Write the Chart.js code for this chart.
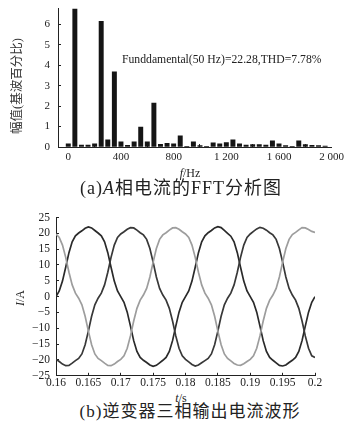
<!DOCTYPE html>
<html>
<head>
<meta charset="utf-8">
<script src="https://cdn.jsdelivr.net/npm/chart.js@4.4.1/dist/chart.umd.min.js"></script>
<style>
  html, body { margin: 0; padding: 0; background: #fff; }
  body {
    width: 345px; height: 427px; position: relative; overflow: hidden;
    font-family: "Liberation Serif", "Noto Sans CJK SC", serif; color: #222;
  }
  .box { position: absolute; left: 0; width: 345px; }
  .txt { position: absolute; white-space: nowrap; line-height: 1; }
  .mid { transform: translate(-50%, -50%); }
  .rot { transform: translate(-50%, -50%) rotate(-90deg); }
  i { font-style: italic; }
</style>
</head>
<body>
<div class="box" style="top:0;height:170px"><canvas id="fftChart"></canvas></div>
<div class="box" style="top:205px;height:185px"><canvas id="waveChart"></canvas></div>

<div class="txt" style="left:122px;top:53.5px;font-size:11.7px">Funddamental(50 Hz)=22.28,THD=7.78%</div>
<div class="txt rot" style="left:17px;top:86px;font-size:12.5px;color:#333">幅值(基波百分比)</div>
<div class="txt mid" style="left:190px;top:173px;font-size:12px"><i>f</i>/Hz</div>
<div class="txt mid" style="left:181px;top:188px;font-size:18px;letter-spacing:1px">(a)<i>A</i>相电流的FFT分析图</div>

<div class="txt rot" style="left:20px;top:298px;font-size:12px"><i>I</i>/A</div>
<div class="txt mid" style="left:181px;top:397.5px;font-size:12px"><i>t</i>/s</div>
<div class="txt mid" style="left:190px;top:411px;font-size:17px;letter-spacing:1px">(b)逆变器三相输出电流波形</div>

<script>
// ---------- (a) FFT spectrum ----------
const harmonicFreq = [
  0, 50, 100, 150, 200, 250, 300, 350, 400, 450,
  500, 550, 600, 650, 700, 750, 800, 850, 900, 950,
  1000, 1050, 1100, 1150, 1200, 1250, 1300, 1350, 1400, 1450,
  1500, 1550, 1600, 1650, 1700, 1750, 1800, 1850, 1900, 1950,
];
const harmonicAmp = [
  0.15, 6.75, 0.1, 0.1, 0.15, 6.15, 0.35, 3.68, 0.25, 0.08,
  0.25, 0.98, 0.25, 2.15, 0.13, 0.18, 0.15, 0.55, 0.02, 0.25,
  0.07, 0.02, 0.2, 0.15, 0.22, 0.35, 0.15, 0.1, 0.12, 0.12,
  0.1, 0.3, 0.15, 0.07, 0.03, 0.3, 0.12, 0.08, 0.07, 0.04,
];
const freqTicks = [0, 400, 800, 1200, 1600, 2000];
const freqTickLabels = ["0", "400", "800", "1 200", "1 600", "2 000"];
const ampTicks = [0, 1, 2, 3, 4, 5, 6];

// ---------- (b) three-phase currents ----------
const time = [
  0.16, 0.1605, 0.161, 0.1615, 0.162, 0.1625, 0.163, 0.1635, 0.164, 0.1645,
  0.165, 0.1655, 0.166, 0.1665, 0.167, 0.1675, 0.168, 0.1685, 0.169, 0.1695,
  0.17, 0.1705, 0.171, 0.1715, 0.172, 0.1725, 0.173, 0.1735, 0.174, 0.1745,
  0.175, 0.1755, 0.176, 0.1765, 0.177, 0.1775, 0.178, 0.1785, 0.179, 0.1795,
  0.18, 0.1805, 0.181, 0.1815, 0.182, 0.1825, 0.183, 0.1835, 0.184, 0.1845,
  0.185, 0.1855, 0.186, 0.1865, 0.187, 0.1875, 0.188, 0.1885, 0.189, 0.1895,
  0.19, 0.1905, 0.191, 0.1915, 0.192, 0.1925, 0.193, 0.1935, 0.194, 0.1945,
  0.195, 0.1955, 0.196, 0.1965, 0.197, 0.1975, 0.198, 0.1985, 0.199, 0.1995,
  0.2,
];
const phaseA = [
  0, 1.8, 4.9, 9.3, 13.9, 17.3, 19.2, 20.1, 20.8, 21.6,
  22.0, 21.7, 20.9, 20.1, 19.2, 17.3, 13.9, 9.3, 4.9, 1.8,
  0, -1.8, -4.9, -9.3, -13.9, -17.3, -19.2, -20.1, -20.8, -21.6,
  -22.0, -21.7, -20.9, -20.1, -19.2, -17.3, -13.9, -9.3, -4.9, -1.8,
  0, 1.8, 4.9, 9.3, 13.9, 17.3, 19.2, 20.2, 20.9, 21.7,
  22.1, 21.8, 20.9, 20.0, 19.1, 17.3, 13.9, 9.3, 4.9, 1.8,
  0, -1.8, -4.9, -9.3, -13.9, -17.3, -19.2, -20.1, -20.9, -21.7,
  -21.9, -21.6, -20.8, -20.1, -19.2, -17.3, -13.9, -9.3, -4.9, -1.8,
  0,
];
const phaseB = [
  19.8, 18.7, 16.3, 12.4, 7.7, 3.7, 1.1, -0.5, -2.6, -6.2,
  -10.9, -15.2, -18.1, -19.5, -20.2, -21.0, -21.7, -21.8, -21.3, -20.5,
  -19.8, -18.7, -16.3, -12.4, -7.7, -3.7, -1.1, 0.5, 2.6, 6.2,
  10.9, 15.2, 18.1, 19.5, 20.2, 21.0, 21.7, 21.8, 21.3, 20.5,
  19.8, 18.7, 16.3, 12.4, 7.7, 3.7, 1.1, -0.5, -2.6, -6.2,
  -10.9, -15.2, -18.1, -19.5, -20.3, -21.1, -21.6, -21.7, -21.2, -20.5,
  -19.8, -18.7, -16.3, -12.4, -7.7, -3.7, -1.1, 0.5, 2.6, 6.2,
  10.9, 15.2, 18.1, 19.6, 20.3, 21.1, 21.8, 21.7, 21.2, 20.6,
  20.3,
];
const phaseC = [
  -19.8, -20.5, -21.3, -21.8, -21.7, -21.0, -20.2, -19.5, -18.1, -15.2,
  -10.9, -6.2, -2.6, -0.5, 1.1, 3.7, 7.7, 12.4, 16.3, 18.7,
  19.8, 20.5, 21.3, 21.8, 21.7, 21.0, 20.2, 19.5, 18.1, 15.2,
  10.9, 6.2, 2.6, 0.5, -1.1, -3.7, -7.7, -12.4, -16.3, -18.7,
  -19.8, -20.6, -21.4, -21.9, -21.6, -20.9, -20.2, -19.5, -18.1, -15.2,
  -10.9, -6.2, -2.6, -0.5, 1.1, 3.7, 7.7, 12.4, 16.3, 18.7,
  19.8, 20.6, 21.4, 21.9, 21.6, 21.0, 20.2, 19.5, 18.1, 15.2,
  10.9, 6.2, 2.6, 0.5, -1.1, -3.7, -7.7, -12.4, -16.3, -18.7,
  -19.2,
];
const timeTicks = [0.16, 0.165, 0.17, 0.175, 0.18, 0.185, 0.19, 0.195, 0.2];
const timeTickLabels = ["0.16", "0.165", "0.17", "0.175", "0.18", "0.185", "0.19", "0.195", "0.2"];
const currentTicks = [-25, -20, -15, -10, -5, 0, 5, 10, 15, 20, 25];

// ---------- helpers ----------
const INK = "#222";
const serif = (size) => ({ family: "'Liberation Serif', serif", size: size });

function useTicks(values) {
  return (scale) => {
    scale.ticks = values.map((v) => ({ value: v }));
  };
}

function fixSize(prop, px) {
  return (scale) => {
    scale[prop] = px;
    scale.paddingLeft = 0;
    scale.paddingRight = 0;
    scale.paddingTop = 0;
    scale.paddingBottom = 0;
  };
}

function axisStyle() {
  return {
    grid: { drawOnChartArea: false, drawTicks: true, tickLength: -3, color: INK },
    border: { display: true, color: INK, width: 1 },
  };
}

const minus = (v) => String(v).replace("-", "\u2212");

// ========== (a) FFT bar chart ==========
new Chart(document.getElementById("fftChart"), {
  type: "bar",
  data: {
    datasets: [
      {
        data: harmonicFreq.map((f, i) => ({ x: f, y: harmonicAmp[i] })),
        backgroundColor: "#151515",
        borderWidth: 0,
        barThickness: 4.3,
      },
    ],
  },
  options: {
    responsive: true,
    maintainAspectRatio: false,
    animation: false,
    layout: { padding: { top: 8, right: 13.3, left: 0, bottom: 0 } },
    plugins: { legend: { display: false }, tooltip: { enabled: false } },
    scales: {
      x: {
        type: "linear",
        min: -78,
        max: 2000,
        offset: false,
        ...axisStyle(),
        afterBuildTicks: useTicks(freqTicks),
        afterFit: fixSize("height", 23),
        ticks: {
          color: INK,
          font: serif(11),
          padding: 6.4,
          maxRotation: 0,
          autoSkip: false,
          callback: (v, i) => freqTickLabels[i],
        },
      },
      y: {
        min: 0,
        max: 6.8,
        ...axisStyle(),
        afterBuildTicks: useTicks(ampTicks),
        afterFit: fixSize("width", 58),
        ticks: { color: INK, font: serif(11), padding: 11, autoSkip: false },
      },
    },
  },
});

// ========== (b) current waveforms ==========
function phase(values, color) {
  return {
    data: time.map((t, i) => ({ x: t, y: values[i] })),
    borderColor: color,
    borderWidth: 1.7,
    pointRadius: 0,
    tension: 0,
    fill: false,
  };
}

new Chart(document.getElementById("waveChart"), {
  type: "line",
  data: {
    datasets: [
      phase(phaseB, "#9d9d9d"),
      phase(phaseC, "#383838"),
      phase(phaseA, "#2a2a2a"),
    ],
  },
  options: {
    responsive: true,
    maintainAspectRatio: false,
    animation: false,
    layout: { padding: { top: 12.5, right: 30, left: 0, bottom: 0 } },
    plugins: { legend: { display: false }, tooltip: { enabled: false } },
    scales: {
      x: {
        type: "linear",
        min: 0.16,
        max: 0.2,
        ...axisStyle(),
        afterBuildTicks: useTicks(timeTicks),
        afterFit: fixSize("height", 14.2),
        ticks: {
          color: INK,
          font: serif(11.5),
          padding: 3,
          maxRotation: 0,
          autoSkip: false,
          callback: (v, i) => timeTickLabels[i],
        },
      },
      y: {
        min: -25,
        max: 25,
        ...axisStyle(),
        afterBuildTicks: useTicks(currentTicks),
        afterFit: fixSize("width", 56),
        ticks: { color: INK, font: serif(11.5), padding: 9, autoSkip: false, callback: minus },
      },
    },
  },
});
</script>
</body>
</html>
